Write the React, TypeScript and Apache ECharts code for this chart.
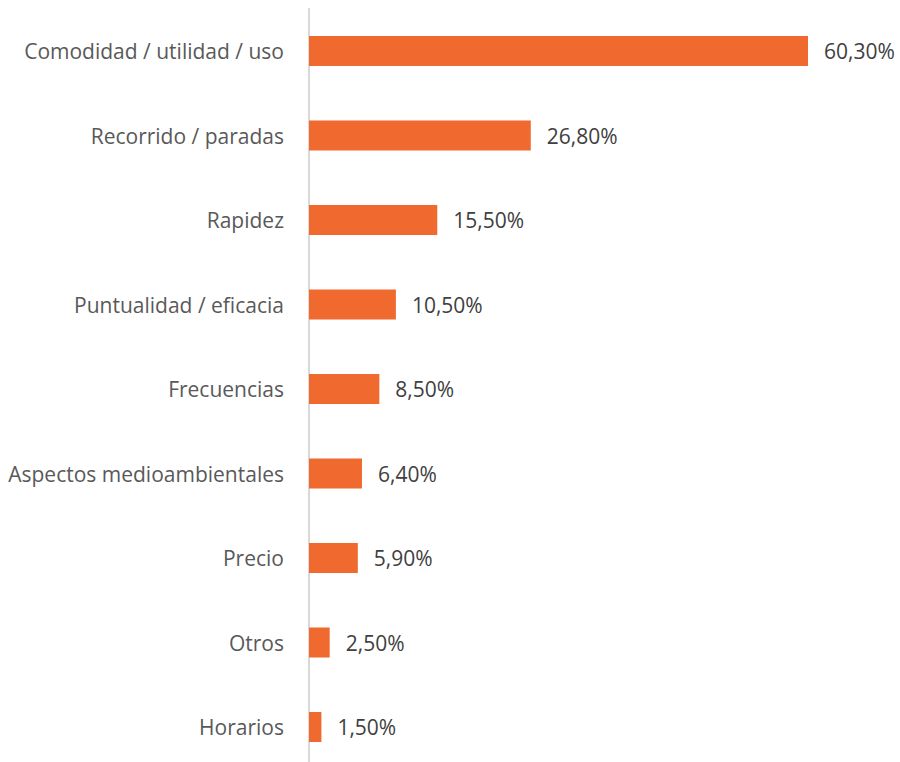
import React, { useEffect, useRef } from "react";
import * as echarts from "echarts";

const categories = [
  "Comodidad / utilidad / uso",
  "Recorrido / paradas",
  "Rapidez",
  "Puntualidad / eficacia",
  "Frecuencias",
  "Aspectos medioambientales",
  "Precio",
  "Otros",
  "Horarios",
];
const values = [60.3, 26.8, 15.5, 10.5, 8.5, 6.4, 5.9, 2.5, 1.5];

export default function App() {
  const ref = useRef<HTMLDivElement>(null);
  useEffect(() => {
    const chart = echarts.init(ref.current!, null, { renderer: "svg" });
    chart.setOption({
      animation: false,
      backgroundColor: "#ffffff",
      grid: { left: 309, top: 8.75, width: 499, height: 760.5, containLabel: false },
      xAxis: {
        type: "value",
        min: 0,
        max: (v: { max: number }) => v.max,
        show: false,
      },
      yAxis: {
        type: "category",
        inverse: true,
        data: categories,
        axisLine: { show: true, lineStyle: { color: "#d9d9d9", width: 2 } },
        axisTick: { show: false },
        axisLabel: {
          margin: 25,
          color: "#595959",
          fontSize: 21,
          fontFamily: "Open Sans",
        },
        splitLine: { show: false },
      },
      series: [
        {
          type: "bar",
          data: values,
          barWidth: 30,
          itemStyle: { color: "#F0692F" },
          label: {
            show: true,
            position: "right",
            distance: 16,
            color: "#404040",
            fontSize: 21,
            fontFamily: "Open Sans",
            formatter: (p: { value: number }) =>
              p.value.toFixed(2).replace(".", ",") + "%",
          },
        },
      ],
    });
    return () => chart.dispose();
  }, []);
  return (
    <div
      style={{
        position: "fixed",
        left: 0,
        top: 0,
        width: 900,
        height: 762,
        overflow: "hidden",
        background: "#ffffff",
      }}
    >
      <div ref={ref} style={{ width: 900, height: 790 }} />
    </div>
  );
}
